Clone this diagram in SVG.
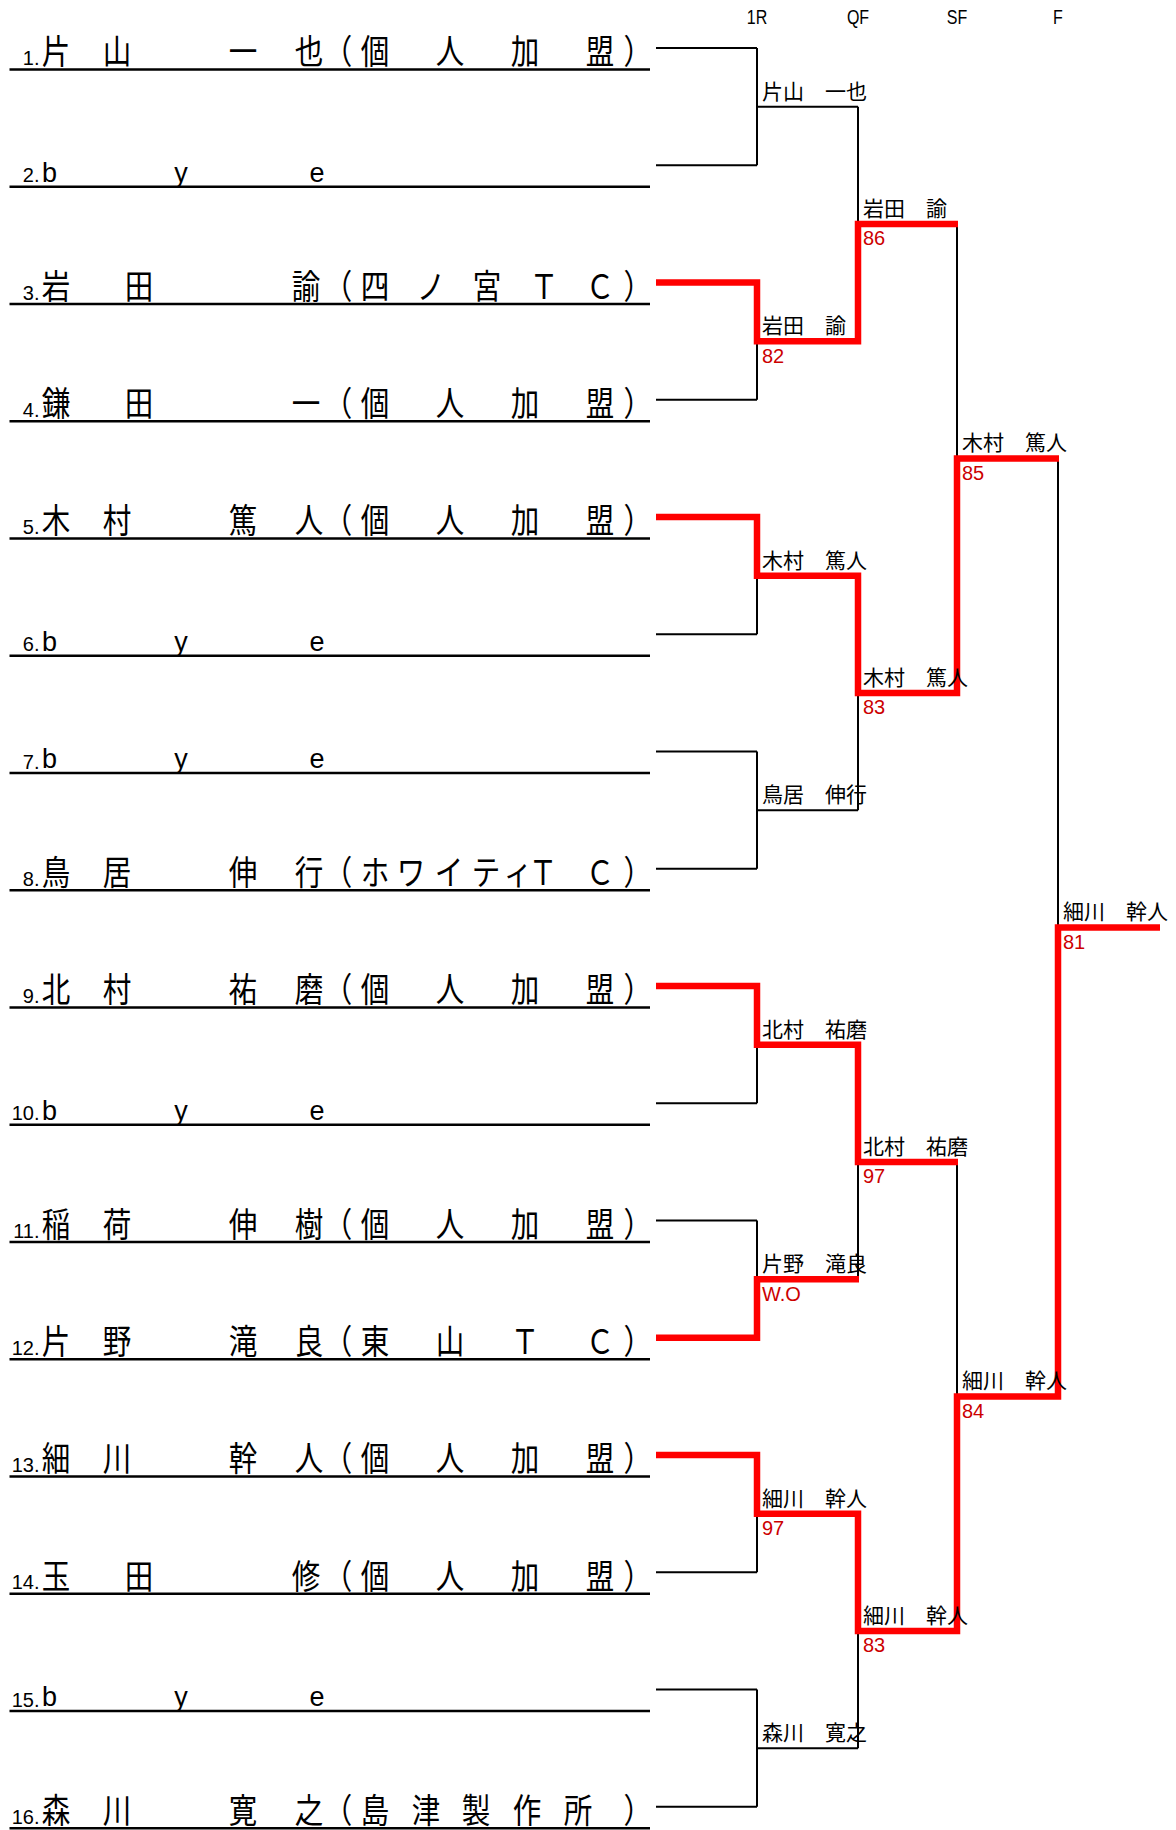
<svg xmlns="http://www.w3.org/2000/svg" width="1176" height="1830" viewBox="0 0 1176 1830">
<style>
.nm{font-family:"Noto Sans CJK JP","Noto Sans CJK SC",sans-serif;font-size:34px;text-anchor:middle;fill:#000}
.by{font-family:"Liberation Sans",Arial,sans-serif;font-size:27px;text-anchor:middle;fill:#000}
.no{font-family:"Liberation Sans",Arial,sans-serif;font-size:20px;text-anchor:end;fill:#000}
.lb{font-family:"Noto Sans CJK JP","Noto Sans CJK SC",sans-serif;font-size:21px;fill:#000}
.sc{font-family:"Liberation Sans",Arial,sans-serif;font-size:20px;fill:#cc0000}
.hd{font-family:"Liberation Sans",Arial,sans-serif;font-size:20px;text-anchor:middle;fill:#000}
.ul{stroke:#000;stroke-width:2.5}
.bk{fill:none;stroke:#000;stroke-width:2}
.rd{fill:none;stroke:#ff0000;stroke-width:6.5;stroke-linejoin:miter}
</style>
<g id="headers">
<text class="hd" transform="scale(0.8 1)" x="946.25" y="24">1R</text>
<text class="hd" transform="scale(0.8 1)" x="1072.5" y="24">QF</text>
<text class="hd" transform="scale(0.8 1)" x="1196.25" y="24">SF</text>
<text class="hd" transform="scale(0.8 1)" x="1322.5" y="24">F</text>
</g>
<g id="connectors">
<path class="bk" d="M656 48H757M656 165.25H757M656 282.5H757M656 399.75H757M656 517H757M656 634.25H757M656 751.5H757M656 868.75H757M656 986H757M656 1103.25H757M656 1220.5H757M656 1337.75H757M656 1455H757M656 1572.25H757M656 1689.5H757M656 1806.75H757
M757 48V165.25M757 282.5V399.75M757 517V634.25M757 751.5V868.75M757 986V1103.25M757 1220.5V1337.75M757 1455V1572.25M757 1689.5V1806.75
M757 106.625H858M757 341.125H858M757 575.625H858M757 810.125H858M757 1044.625H858M757 1279.125H858M757 1513.625H858M757 1748.125H858
M858 106.625V341.125M858 575.625V810.125M858 1044.625V1279.125M858 1513.625V1748.125
M858 223.875H957M858 692.875H957M858 1161.875H957M858 1630.875H957
M957 223.875V692.875M957 1161.875V1630.875
M957 458.375H1058M957 1396.375H1058
M1058 458.375V1396.375"/>
<path class="rd" d="M656 282.5H757V341.125H858V223.875H958"/>
<path class="rd" d="M656 517H757V575.625H858V692.875H957V458.375H1059"/>
<path class="rd" d="M656 986H757V1044.625H858V1161.875H958"/>
<path class="rd" d="M656 1337.75H757V1279.125H859"/>
<path class="rd" d="M656 1455H757V1513.625H858V1630.875H957V1396.375H1058V927.375H1160"/>
</g>
<g id="entry-1"><line class="ul" x1="9.5" y1="69.5" x2="650" y2="69.5"/><text class="no" x="39.5" y="65">1.</text><text class="nm" transform="scale(0.84 1)" x="66.67 139.29 289.29 367.86 402.5 446.43 535.71 625 714.29 759.2" y="64.5">片山一也（個人加盟）</text></g>
<g id="entry-2"><line class="ul" x1="9.5" y1="186.75" x2="650" y2="186.75"/><text class="no" x="39.5" y="182.25">2.</text><text class="by" x="49.5 181 317" y="181.75">bye</text></g>
<g id="entry-3"><line class="ul" x1="9.5" y1="304" x2="650" y2="304"/><text class="no" x="39.5" y="299.5">3.</text><text class="nm" transform="scale(0.84 1)" x="66.67 165.48 364.29 402.5 446.43 513.1 579.76 647.62 714.29 759.2" y="299">岩田諭（四ノ宮ＴＣ）</text></g>
<g id="entry-4"><line class="ul" x1="9.5" y1="421.25" x2="650" y2="421.25"/><text class="no" x="39.5" y="416.75">4.</text><text class="nm" transform="scale(0.84 1)" x="66.67 165.48 364.29 402.5 446.43 535.71 625 714.29 759.2" y="416.25">鎌田一（個人加盟）</text></g>
<g id="entry-5"><line class="ul" x1="9.5" y1="538.5" x2="650" y2="538.5"/><text class="no" x="39.5" y="534">5.</text><text class="nm" transform="scale(0.84 1)" x="66.67 139.29 289.29 367.86 402.5 446.43 535.71 625 714.29 759.2" y="533.5">木村篤人（個人加盟）</text></g>
<g id="entry-6"><line class="ul" x1="9.5" y1="655.75" x2="650" y2="655.75"/><text class="no" x="39.5" y="651.25">6.</text><text class="by" x="49.5 181 317" y="650.75">bye</text></g>
<g id="entry-7"><line class="ul" x1="9.5" y1="773" x2="650" y2="773"/><text class="no" x="39.5" y="768.5">7.</text><text class="by" x="49.5 181 317" y="768">bye</text></g>
<g id="entry-8"><line class="ul" x1="9.5" y1="890.25" x2="650" y2="890.25"/><text class="no" x="39.5" y="885.75">8.</text><text class="nm" transform="scale(0.84 1)" x="66.67 139.29 289.29 367.86 402.5 446.43 489.29 534.52 578.57 616.67 646.43 714.29 759.2" y="885.25">鳥居伸行（ホワイティＴＣ）</text></g>
<g id="entry-9"><line class="ul" x1="9.5" y1="1007.5" x2="650" y2="1007.5"/><text class="no" x="39.5" y="1003">9.</text><text class="nm" transform="scale(0.84 1)" x="66.67 139.29 289.29 367.86 402.5 446.43 535.71 625 714.29 759.2" y="1002.5">北村祐磨（個人加盟）</text></g>
<g id="entry-10"><line class="ul" x1="9.5" y1="1124.75" x2="650" y2="1124.75"/><text class="no" x="39.5" y="1120.25">10.</text><text class="by" x="49.5 181 317" y="1119.75">bye</text></g>
<g id="entry-11"><line class="ul" x1="9.5" y1="1242" x2="650" y2="1242"/><text class="no" x="39.5" y="1237.5">11.</text><text class="nm" transform="scale(0.84 1)" x="66.67 139.29 289.29 367.86 402.5 446.43 535.71 625 714.29 759.2" y="1237">稲荷伸樹（個人加盟）</text></g>
<g id="entry-12"><line class="ul" x1="9.5" y1="1359.25" x2="650" y2="1359.25"/><text class="no" x="39.5" y="1354.75">12.</text><text class="nm" transform="scale(0.84 1)" x="66.67 139.29 289.29 367.86 402.5 446.43 535.71 625 714.29 759.2" y="1354.25">片野滝良（東山ＴＣ）</text></g>
<g id="entry-13"><line class="ul" x1="9.5" y1="1476.5" x2="650" y2="1476.5"/><text class="no" x="39.5" y="1472">13.</text><text class="nm" transform="scale(0.84 1)" x="66.67 139.29 289.29 367.86 402.5 446.43 535.71 625 714.29 759.2" y="1471.5">細川幹人（個人加盟）</text></g>
<g id="entry-14"><line class="ul" x1="9.5" y1="1593.75" x2="650" y2="1593.75"/><text class="no" x="39.5" y="1589.25">14.</text><text class="nm" transform="scale(0.84 1)" x="66.67 165.48 364.29 402.5 446.43 535.71 625 714.29 759.2" y="1588.75">玉田修（個人加盟）</text></g>
<g id="entry-15"><line class="ul" x1="9.5" y1="1711" x2="650" y2="1711"/><text class="no" x="39.5" y="1706.5">15.</text><text class="by" x="49.5 181 317" y="1706">bye</text></g>
<g id="entry-16"><line class="ul" x1="9.5" y1="1828.25" x2="650" y2="1828.25"/><text class="no" x="39.5" y="1823.75">16.</text><text class="nm" transform="scale(0.84 1)" x="66.67 139.29 289.29 367.86 402.5 446.43 507.14 566.67 627.38 688.1 759.2" y="1823.25">森川寛之（島津製作所）</text></g>
<g id="r1-m1"><text class="lb" x="762" y="98.6">片山　一也</text></g>
<g id="r1-m2"><text class="lb" x="762" y="333.1">岩田　諭</text><text class="sc" x="762" y="362.6">82</text></g>
<g id="r1-m3"><text class="lb" x="762" y="567.6">木村　篤人</text></g>
<g id="r1-m4"><text class="lb" x="762" y="802.1">鳥居　伸行</text></g>
<g id="r1-m5"><text class="lb" x="762" y="1036.6">北村　祐磨</text></g>
<g id="r1-m6"><text class="lb" x="762" y="1271.1">片野　滝良</text><text class="sc" x="762" y="1300.6">W.O</text></g>
<g id="r1-m7"><text class="lb" x="762" y="1505.6">細川　幹人</text><text class="sc" x="762" y="1535.1">97</text></g>
<g id="r1-m8"><text class="lb" x="762" y="1740.1">森川　寛之</text></g>
<g id="qf-1"><text class="lb" x="863" y="215.9">岩田　諭</text><text class="sc" x="863" y="245.4">86</text></g>
<g id="qf-2"><text class="lb" x="863" y="684.9">木村　篤人</text><text class="sc" x="863" y="714.4">83</text></g>
<g id="qf-3"><text class="lb" x="863" y="1153.9">北村　祐磨</text><text class="sc" x="863" y="1183.4">97</text></g>
<g id="qf-4"><text class="lb" x="863" y="1622.9">細川　幹人</text><text class="sc" x="863" y="1652.4">83</text></g>
<g id="sf-1"><text class="lb" x="962" y="450.4">木村　篤人</text><text class="sc" x="962" y="479.9">85</text></g>
<g id="sf-2"><text class="lb" x="962" y="1388.4">細川　幹人</text><text class="sc" x="962" y="1417.9">84</text></g>
<g id="final"><text class="lb" x="1063" y="919.4">細川　幹人</text><text class="sc" x="1063" y="948.9">81</text></g>
</svg>
